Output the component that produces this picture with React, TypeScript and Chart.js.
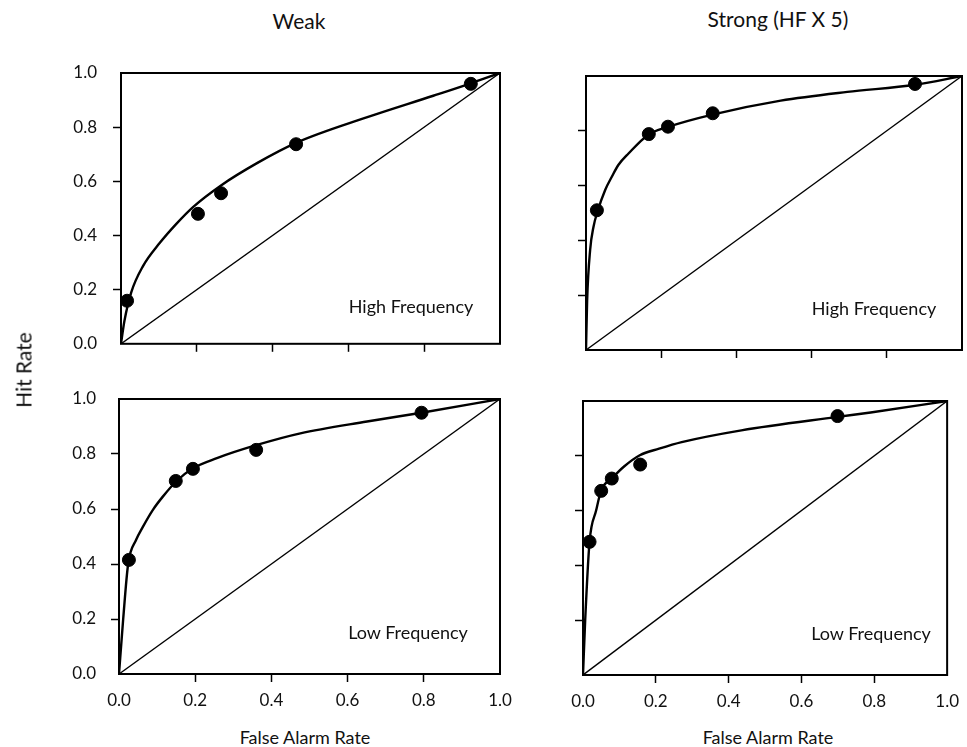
import React, { useEffect, useRef } from "react";
import { Chart, registerables } from "chart.js";

Chart.register(...registerables);

// ---------- data ----------
const xTicks = [0, 0.2, 0.4, 0.6, 0.8, 1.0];
const yTicks = [0, 0.2, 0.4, 0.6, 0.8, 1.0];
const panelTitles = ["Weak", "Strong (HF X 5)"];
const conditionLabels = ["High Frequency", "Low Frequency"];
const xAxisTitle = "False Alarm Rate";
const yAxisTitle = "Hit Rate";

const diagonalX = [0, 1];
const diagonalY = [0, 1];

// Weak, High Frequency
const weakHighPointsX = [0.016, 0.203, 0.264, 0.462, 0.923];
const weakHighPointsY = [0.159, 0.48, 0.556, 0.737, 0.96];
const weakHighCurveX = [0, 0.009, 0.027, 0.058, 0.102, 0.146, 0.19, 0.263, 0.36, 0.462, 0.648, 0.824, 0.923, 1];
const weakHighCurveY = [0, 0.084, 0.19, 0.287, 0.372, 0.443, 0.505, 0.584, 0.668, 0.742, 0.836, 0.916, 0.962, 1];

// Strong, High Frequency
const strongHighPointsX = [0.029, 0.167, 0.218, 0.337, 0.875];
const strongHighPointsY = [0.51, 0.788, 0.815, 0.864, 0.971];
const strongHighCurveX = [0, 0.003, 0.011, 0.02, 0.031, 0.051, 0.069, 0.086, 0.113, 0.165, 0.218, 0.339, 0.518, 0.695, 0.875, 1];
const strongHighCurveY = [0, 0.18, 0.365, 0.45, 0.507, 0.584, 0.633, 0.675, 0.717, 0.785, 0.814, 0.86, 0.91, 0.942, 0.968, 1];

// Weak, Low Frequency
const weakLowPointsX = [0.026, 0.149, 0.194, 0.36, 0.794];
const weakLowPointsY = [0.415, 0.702, 0.746, 0.815, 0.95];
const weakLowCurveX = [0, 0.011, 0.024, 0.045, 0.063, 0.089, 0.115, 0.15, 0.194, 0.257, 0.36, 0.476, 0.651, 0.794, 1];
const weakLowCurveY = [0, 0.2, 0.4, 0.488, 0.536, 0.597, 0.645, 0.70, 0.748, 0.785, 0.832, 0.875, 0.918, 0.95, 1];

// Strong, Low Frequency
const strongLowPointsX = [0.018, 0.05, 0.079, 0.157, 0.699];
const strongLowPointsY = [0.486, 0.672, 0.717, 0.768, 0.945];
const strongLowCurveX = [0, 0.006, 0.018, 0.036, 0.05, 0.079, 0.112, 0.156, 0.209, 0.271, 0.435, 0.699, 0.79, 1];
const strongLowCurveY = [0, 0.2, 0.486, 0.6, 0.674, 0.717, 0.76, 0.802, 0.826, 0.85, 0.893, 0.942, 0.958, 1];

// ---------- layout ----------
type Layout = {
  left: number; top: number; width: number; height: number;
  yAxisWidth: number; xAxisHeight: number; padRight: number; padTop: number;
  showX: boolean; showY: boolean; yPad: number;
};

const FONT = "Lato, 'Open Sans', 'DejaVu Sans', sans-serif";
const INK = "#111";

const zip = (xs: number[], ys: number[]) => xs.map((x, i) => ({ x, y: ys[i] }));

const boxPlugin = {
  id: "plotBox",
  afterDraw(chart: any) {
    const { ctx, chartArea } = chart;
    ctx.save();
    ctx.strokeStyle = "#000";
    ctx.lineWidth = 2;
    ctx.strokeRect(chartArea.left, chartArea.top, chartArea.right - chartArea.left, chartArea.bottom - chartArea.top);
    ctx.restore();
  },
};

function RocPanel(props: {
  layout: Layout;
  curveX: number[]; curveY: number[];
  ptsX: number[]; ptsY: number[];
}) {
  const ref = useRef<HTMLCanvasElement>(null);
  const { layout } = props;
  useEffect(() => {
    const edgeColor = (ctx: any, n: number) =>
      ctx.index === 0 || ctx.index === n - 1 ? "rgba(0,0,0,0)" : "#000";
    const chart = new Chart(ref.current as HTMLCanvasElement, {
      type: "scatter",
      data: {
        datasets: [
          {
            type: "scatter",
            data: zip(props.ptsX, props.ptsY),
            backgroundColor: "#000",
            borderColor: "#000",
            pointRadius: 6.5,
            pointHoverRadius: 6.5,
            clip: false,
          } as any,
          {
            type: "line",
            data: zip(props.curveX, props.curveY),
            borderColor: "#000",
            borderWidth: 2.4,
            pointRadius: 0,
            fill: false,
            cubicInterpolationMode: "monotone",
          } as any,
          {
            type: "line",
            data: zip(diagonalX, diagonalY),
            borderColor: "#000",
            borderWidth: 1.4,
            pointRadius: 0,
            fill: false,
          } as any,
        ],
      },
      options: {
        animation: false,
        responsive: false,
        events: [],
        layout: {
          autoPadding: false,
          padding: { left: 0, right: layout.padRight, top: layout.padTop, bottom: 0 },
        },
        plugins: { legend: { display: false }, tooltip: { enabled: false } },
        scales: {
          x: {
            type: "linear",
            min: 0,
            max: 1,
            afterBuildTicks: (s: any) => {
              s.ticks = xTicks.map((v) => ({ value: v }));
            },
            afterFit: (s: any) => {
              s.height = layout.xAxisHeight;
            },
            ticks: {
              display: layout.showX,
              autoSkip: false,
              maxRotation: 0,
              padding: 8,
              color: INK,
              font: { family: FONT, size: 17 },
              callback: (v: any) => Number(v).toFixed(1),
            },
            grid: {
              drawOnChartArea: false,
              drawTicks: true,
              tickLength: 8,
              tickWidth: 1.5,
              tickColor: (ctx: any) => edgeColor(ctx, xTicks.length),
            },
            border: { display: false },
          },
          y: {
            type: "linear",
            min: 0,
            max: 1,
            afterBuildTicks: (s: any) => {
              s.ticks = yTicks.map((v) => ({ value: v }));
            },
            afterFit: (s: any) => {
              s.width = layout.yAxisWidth;
            },
            ticks: {
              display: layout.showY,
              autoSkip: false,
              padding: layout.yPad,
              color: INK,
              font: { family: FONT, size: 17 },
              callback: (v: any) => Number(v).toFixed(1),
            },
            grid: {
              drawOnChartArea: false,
              drawTicks: true,
              tickLength: 8,
              tickWidth: 1.5,
              tickColor: (ctx: any) => edgeColor(ctx, yTicks.length),
            },
            border: { display: false },
          },
        },
      } as any,
      plugins: [boxPlugin],
    });
    return () => chart.destroy();
  }, []);
  return (
    <canvas
      ref={ref}
      width={layout.width}
      height={layout.height}
      style={{ position: "absolute", left: layout.left, top: layout.top, width: layout.width, height: layout.height }}
    />
  );
}

const layoutTL: Layout = { left: 30, top: 40, width: 490, height: 330, yAxisWidth: 91, xAxisHeight: 20, padRight: 20, padTop: 33, showX: false, showY: true, yPad: 16 };
const layoutTR: Layout = { left: 500, top: 40, width: 467, height: 330, yAxisWidth: 86, xAxisHeight: 20, padRight: 5, padTop: 36, showX: false, showY: false, yPad: 16 };
const layoutBL: Layout = { left: 30, top: 370, width: 490, height: 340, yAxisWidth: 89, xAxisHeight: 36, padRight: 20, padTop: 29, showX: true, showY: true, yPad: 15 };
const layoutBR: Layout = { left: 500, top: 370, width: 467, height: 340, yAxisWidth: 83, xAxisHeight: 35, padRight: 8, padTop: 31, showX: true, showY: false, yPad: 15 };

function Label(p: { text: string; x: number; y: number; size: number; rotate?: boolean }) {
  return (
    <div
      style={{
        position: "absolute",
        left: p.x,
        top: p.y,
        transform: `translate(-50%, -50%)${p.rotate ? " rotate(-90deg)" : ""}`,
        fontFamily: FONT,
        fontSize: p.size,
        lineHeight: 1,
        color: INK,
        whiteSpace: "nowrap",
      }}
    >
      {p.text}
    </div>
  );
}

export default function App() {
  return (
    <div
      style={{
        position: "absolute",
        left: 0,
        top: 0,
        width: 967,
        height: 747,
        overflow: "hidden",
        background: "#fff",
      }}
    >
      <RocPanel layout={layoutTL} curveX={weakHighCurveX} curveY={weakHighCurveY} ptsX={weakHighPointsX} ptsY={weakHighPointsY} />
      <RocPanel layout={layoutTR} curveX={strongHighCurveX} curveY={strongHighCurveY} ptsX={strongHighPointsX} ptsY={strongHighPointsY} />
      <RocPanel layout={layoutBL} curveX={weakLowCurveX} curveY={weakLowCurveY} ptsX={weakLowPointsX} ptsY={weakLowPointsY} />
      <RocPanel layout={layoutBR} curveX={strongLowCurveX} curveY={strongLowCurveY} ptsX={strongLowPointsX} ptsY={strongLowPointsY} />

      <Label text={panelTitles[0]} x={299} y={20} size={21} />
      <Label text={panelTitles[1]} x={778} y={18} size={21} />
      <Label text={yAxisTitle} x={23} y={370} size={21} rotate />
      <Label text={xAxisTitle} x={305} y={737} size={18} />
      <Label text={xAxisTitle} x={768} y={737} size={18} />
      <Label text={conditionLabels[0]} x={411} y={306} size={18} />
      <Label text={conditionLabels[0]} x={874} y={308} size={18} />
      <Label text={conditionLabels[1]} x={408} y={632} size={18} />
      <Label text={conditionLabels[1]} x={871} y={633} size={18} />
    </div>
  );
}
